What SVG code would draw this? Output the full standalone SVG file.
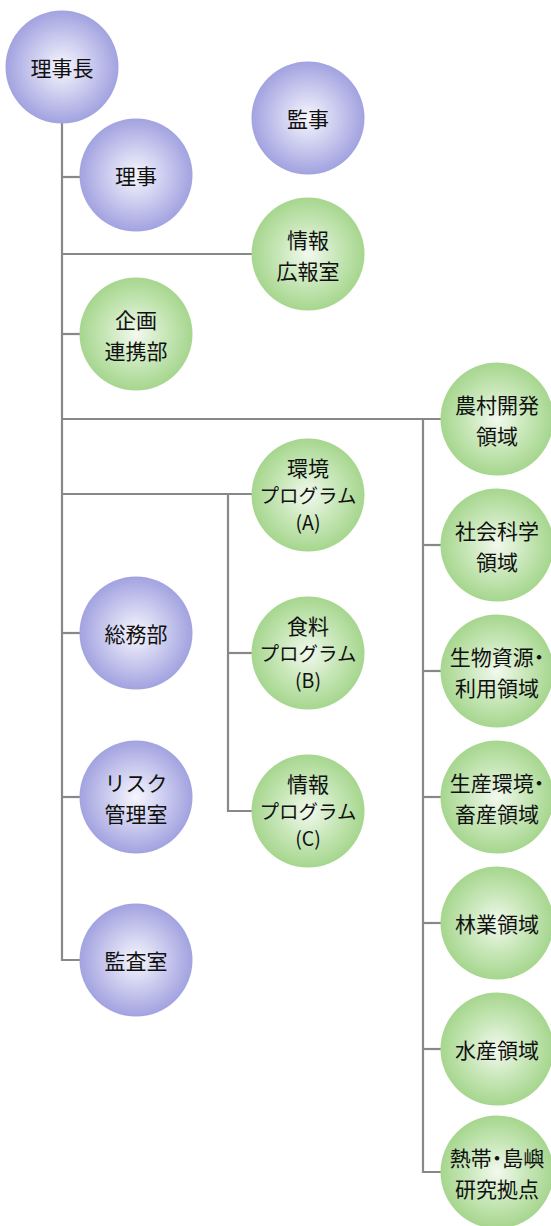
<svg xmlns="http://www.w3.org/2000/svg" width="551" height="1226" viewBox="0 0 551 1226">
<defs>
<radialGradient id="gp" cx="0.5" cy="0.5" r="0.5">
<stop offset="0" stop-color="#f6f6fd"/>
<stop offset="0.55" stop-color="#c8c8ee"/>
<stop offset="1" stop-color="#a2a2e0"/>
</radialGradient>
<radialGradient id="gg" cx="0.5" cy="0.5" r="0.5">
<stop offset="0" stop-color="#f2f9ee"/>
<stop offset="0.55" stop-color="#c6e6b6"/>
<stop offset="1" stop-color="#a6d68e"/>
</radialGradient>
<style>
.p{fill:url(#gp)}
.g{fill:url(#gg)}
.t{font-family:"Noto Sans CJK JP","Noto Sans",sans-serif;font-size:21px;fill:#111;text-anchor:middle;dominant-baseline:central}
.k{font-size:19.5px}
.pa{font-feature-settings:"palt"}
.c{stroke:#888;stroke-width:2.2;fill:none}
</style>
</defs>
<g id="connectors" class="c">
<path d="M62,120 V960 H80"/>
<path d="M62,177 H80"/>
<path d="M62,254 H252"/>
<path d="M62,334 H80"/>
<path d="M62,419 H441"/>
<path d="M62,494 H252"/>
<path d="M62,633 H80"/>
<path d="M62,797 H80"/>
<path d="M228,494 V811 H252"/>
<path d="M228,653 H252"/>
<path d="M423,419 V1172 H441"/>
<path d="M423,545 H441"/>
<path d="M423,671 H441"/>
<path d="M423,797 H441"/>
<path d="M423,923 H441"/>
<path d="M423,1049 H441"/>
</g>
<g id="n-rijicho"><circle class="p" cx="62" cy="67" r="56.5"/><text class="t" x="62" y="67">理事長</text></g>
<g id="n-kanji"><circle class="p" cx="308" cy="118" r="56.5"/><text class="t" x="308" y="118">監事</text></g>
<g id="n-riji"><circle class="p" cx="136" cy="175" r="56.5"/><text class="t" x="136" y="175">理事</text></g>
<g id="n-joho-koho"><circle class="g" cx="308" cy="254" r="56.5"/><text class="t" x="308" y="239">情報</text><text class="t" x="308" y="270">広報室</text></g>
<g id="n-kikaku"><circle class="g" cx="136" cy="334" r="56.5"/><text class="t" x="136" y="319">企画</text><text class="t" x="136" y="350">連携部</text></g>
<g id="n-noson"><circle class="g" cx="497" cy="419" r="56.5"/><text class="t" x="497" y="404">農村開発</text><text class="t" x="497" y="435">領域</text></g>
<g id="n-prog-a"><circle class="g" cx="308" cy="495" r="56.5"/><text class="t" x="308" y="467">環境</text><text class="t k" x="308" y="494">プログラム</text><text class="t k" x="308" y="521">(A)</text></g>
<g id="n-shakai"><circle class="g" cx="497" cy="545" r="56.5"/><text class="t" x="497" y="530">社会科学</text><text class="t" x="497" y="561">領域</text></g>
<g id="n-somu"><circle class="p" cx="136" cy="633" r="56.5"/><text class="t" x="136" y="633">総務部</text></g>
<g id="n-prog-b"><circle class="g" cx="308" cy="653" r="56.5"/><text class="t" x="308" y="625">食料</text><text class="t k" x="308" y="652">プログラム</text><text class="t k" x="308" y="679">(B)</text></g>
<g id="n-seibutsu"><circle class="g" cx="497" cy="671" r="56.5"/><text class="t pa" x="497" y="656">生物資源・</text><text class="t" x="497" y="687">利用領域</text></g>
<g id="n-risk"><circle class="p" cx="136" cy="797" r="56.5"/><text class="t" x="136" y="782">リスク</text><text class="t" x="136" y="813">管理室</text></g>
<g id="n-prog-c"><circle class="g" cx="308" cy="811" r="56.5"/><text class="t" x="308" y="783">情報</text><text class="t k" x="308" y="810">プログラム</text><text class="t k" x="308" y="837">(C)</text></g>
<g id="n-seisan"><circle class="g" cx="497" cy="797" r="56.5"/><text class="t pa" x="497" y="782">生産環境・</text><text class="t" x="497" y="813">畜産領域</text></g>
<g id="n-ringyo"><circle class="g" cx="497" cy="923" r="56.5"/><text class="t" x="497" y="923">林業領域</text></g>
<g id="n-kansa"><circle class="p" cx="136" cy="960" r="56.5"/><text class="t" x="136" y="960">監査室</text></g>
<g id="n-suisan"><circle class="g" cx="497" cy="1049" r="56.5"/><text class="t" x="497" y="1049">水産領域</text></g>
<g id="n-nettai"><circle class="g" cx="497" cy="1172" r="56.5"/><text class="t pa" x="497" y="1157">熱帯・島嶼</text><text class="t" x="497" y="1188">研究拠点</text></g>
</svg>
